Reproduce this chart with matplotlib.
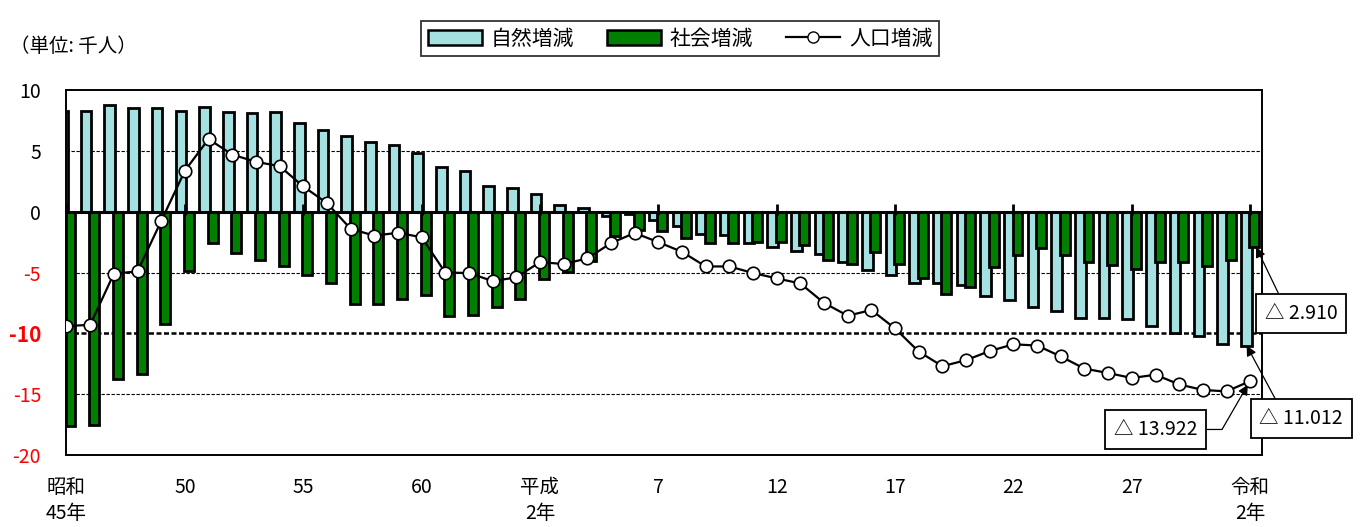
import matplotlib.pyplot as plt
import numpy as np
from matplotlib.patches import Patch
from matplotlib.lines import Line2D

plt.rcParams['font.family'] = ['Noto Sans CJK JP', 'DejaVu Sans']

# 昭和45年 (1970) .. 令和2年 (2020), 千人
natural = [8.3, 8.3, 8.8, 8.5, 8.5, 8.3, 8.6, 8.2, 8.1, 8.2, 7.3, 6.7, 6.2, 5.7, 5.5, 4.8, 3.7,
           3.37, 2.14, 1.92, 1.46, 0.57, 0.3, -0.35, -0.22, -0.72, -1.15, -1.84, -1.95, -2.6,
           -2.88, -3.2, -3.48, -4.16, -4.8, -5.18,
           -5.9, -5.86, -6.0, -6.96, -7.26, -7.8, -8.2, -8.77, -8.77, -8.82, -9.37, -10.0,
           -10.2, -10.9, -11.012]
social = [-17.6, -17.5, -13.75, -13.3, -9.2, -4.9, -2.55, -3.4, -4.0, -4.5, -5.2, -5.9, -7.6,
          -7.6, -7.15, -6.85, -8.6,
          -8.5, -7.84, -7.18, -5.53, -4.93, -4.03, -1.97, -1.5, -1.6, -2.14, -2.6, -2.55,
          -2.47, -2.5, -2.7, -3.95, -4.33, -3.34, -4.3,
          -5.48, -6.74, -6.2, -4.52, -3.56, -3.0, -3.56, -4.16, -4.36, -4.7, -4.1, -4.16,
          -4.44, -3.97, -2.910]
population = [-9.4, -9.3, -5.1, -4.9, -0.77, 3.37, 5.97, 4.7, 4.1, 3.75, 2.08, 0.71, -1.4,
              -1.97, -1.73, -2.1, -5.0,
              -5.04, -5.7, -5.4, -4.14, -4.3, -3.84, -2.58, -1.75, -2.5, -3.3, -4.5, -4.5,
              -5.04, -5.48, -5.9, -7.5, -8.55, -8.08, -9.6,
              -11.5, -12.7, -12.2, -11.45, -10.9, -11.0, -11.9, -12.9, -13.26, -13.67, -13.4,
              -14.2, -14.65, -14.77, -13.922]

tick_pos = [0, 5, 10, 15, 20, 25, 30, 35, 40, 45, 50]
tick_labels = ['昭和\n45年', '50', '55', '60', '平成\n2年', '7', '12', '17', '22', '27', '令和\n2年']
y_ticks = [10, 5, 0, -5, -10, -15, -20]

CYAN = '#A6E1E1'
GREEN = '#007F00'

x = np.arange(len(natural))

fig = plt.figure(figsize=(13.61, 5.27), dpi=100)
ax = fig.add_axes([0.0485, 0.1366, 0.8788, 0.6925])

# grid: light dashes, heavier at -10
for yv in (5, -5, -15):
    ax.axhline(yv, color='black', lw=0.8, ls=(0, (3, 1.5)), zorder=0)
ax.axhline(-10, color='black', lw=1.8, ls=(0, (2, 1)), zorder=0)

ax.bar(x - 0.17, natural, width=0.45, color=CYAN, edgecolor='black', linewidth=2.0, zorder=2)
ax.bar(x + 0.17, social, width=0.42, color=GREEN, edgecolor='black', linewidth=2.0, zorder=3)
ax.axhline(0, color='black', lw=2.2, zorder=4)
ax.vlines(tick_pos, -0.3, 0.6, color='black', lw=2, zorder=4)
ax.plot(x, population, color='black', lw=1.6, marker='o', ms=9, mfc='white',
        mec='black', mew=1.2, zorder=5)

ax.set_xlim(-0.02, 50.5)
ax.set_ylim(-20, 10)
ax.set_yticks(y_ticks)
ax.set_yticklabels([str(v) for v in y_ticks], fontsize=14)
for lbl, v in zip(ax.get_yticklabels(), y_ticks):
    if v < 0:
        lbl.set_color('red')
    if v == -10:
        lbl.set_fontweight('bold')
        lbl.set_fontsize(15)
ax.set_xticks(tick_pos)
ax.set_xticklabels(tick_labels, fontsize=14, linespacing=1.3, va='top')
ax.tick_params(axis='both', length=0)
ax.tick_params(axis='x', pad=16)
ax.tick_params(axis='y', pad=18)
for sp in ax.spines.values():
    sp.set_linewidth(1.4)

# callouts for the last year
box = dict(boxstyle='square,pad=0.45', fc='white', ec='black', lw=1.3)
ax.annotate('△ 2.910', xy=(50.25, social[-1]), xytext=(52.15, -8.35), ha='center', va='center',
            fontsize=14, bbox=box, annotation_clip=False,
            arrowprops=dict(arrowstyle='-|>', color='black', lw=0.9, shrinkA=0, shrinkB=0,
                            relpos=(0.25, 1.0), mutation_scale=15))
ax.annotate('△ 11.012', xy=(49.85, natural[-1]), xytext=(52.15, -17.0), ha='center', va='center',
            fontsize=14, bbox=box, annotation_clip=False,
            arrowprops=dict(arrowstyle='-|>', color='black', lw=0.9, shrinkA=0, shrinkB=0,
                            relpos=(0.25, 1.0), mutation_scale=15))
ax.annotate('△ 13.922', xy=(49.9, population[-1] - 0.3), xytext=(46.0, -17.9), ha='center',
            va='center', fontsize=14, bbox=box, annotation_clip=False,
            arrowprops=dict(arrowstyle='-|>', color='black', lw=0.9, shrinkA=0, shrinkB=0,
                            relpos=(1.0, 0.5), mutation_scale=15,
                            connectionstyle='angle,angleA=0,angleB=60,rad=0'))

fig.text(0.007, 1 - 47 / 527, '（単位: 千人）', fontsize=14, va='center', ha='left')

handles = [Patch(fc=CYAN, ec='black', lw=1.8), Patch(fc=GREEN, ec='black', lw=1.8),
           Line2D([], [], color='black', lw=1.6, marker='o', ms=8, mfc='white', mec='black')]
leg = fig.legend(handles, ['自然増減', '社会増減', '人口増減'], loc='upper center',
                 bbox_to_anchor=(680 / 1361, 1 - 11 / 527), ncol=3, fontsize=15,
                 frameon=True, fancybox=False, edgecolor='black', handlelength=2.6,
                 handleheight=0.75, handletextpad=0.4, columnspacing=1.6, borderpad=0.3)
leg.get_frame().set_linewidth(1.3)

fig.savefig('out.png', dpi=100)
